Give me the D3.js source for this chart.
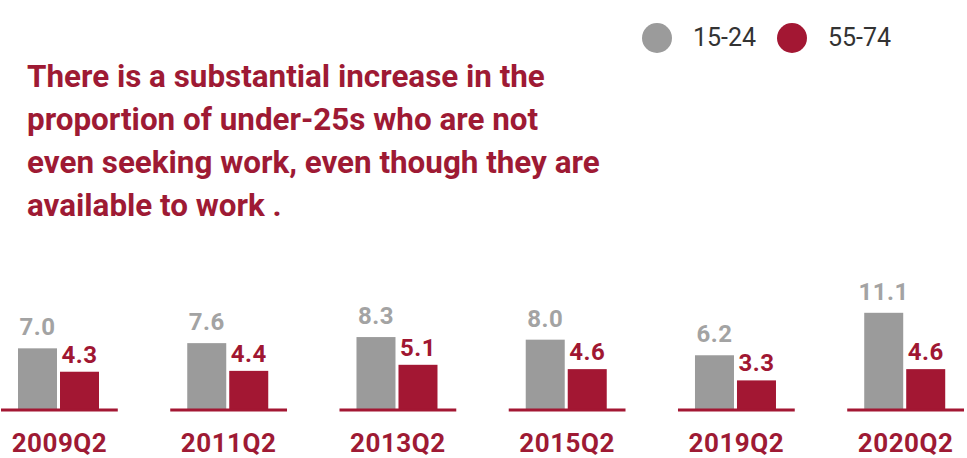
<!DOCTYPE html>
<html>
<head>
<meta charset="utf-8">
<script src="https://cdn.jsdelivr.net/npm/d3@7"></script>
<style>
  html, body { margin: 0; padding: 0; background: #fff; }
  svg { display: block; }
</style>
</head>
<body>
<svg id="chart" width="967" height="458"></svg>
<script>
const categories = ["2009Q2", "2011Q2", "2013Q2", "2015Q2", "2019Q2", "2020Q2"];
const seriesNames = ["15-24", "55-74"];
const youth = [7.0, 7.6, 8.3, 8.0, 6.2, 11.1];
const older = [4.3, 4.4, 5.1, 4.6, 3.3, 4.6];
const titleLines = [
  "There is a substantial increase in the",
  "proportion of under-25s who are not",
  "even seeking work, even though they are",
  "available to work ."
];

const GRAY = "#9b9b9b";
const RED = "#a31733";
const TITLE_RED = "#9e1a34";
const colors = { "15-24": GRAY, "55-74": RED };
const labelColors = { "15-24": "#a3a3a3", "55-74": "#a01732" };

const svg = d3.select("#chart");
const FONT = "Roboto, 'DejaVu Sans', sans-serif";

const x0 = d3.scaleBand().domain(categories).range([1, 964]).paddingInner(0.31).paddingOuter(0);
const x1 = d3.scaleBand().domain(seriesNames).range([17, 98]).paddingInner(0.0714).paddingOuter(0);
const y = d3.scaleLinear().domain([0, 12]).range([409, 305]);

const data = categories.map((c, i) => ({
  cat: c,
  values: [{ s: "15-24", v: youth[i] }, { s: "55-74", v: older[i] }]
}));

// Title
const title = svg.append("g").attr("font-family", FONT).attr("font-weight", 700).attr("fill", TITLE_RED);
title.selectAll("text").data(titleLines).join("text")
  .attr("x", 27)
  .attr("y", (d, i) => 87 + i * 43)
  .attr("font-size", 26)
  .text(d => d);
const firstLen = title.select("text").node().getComputedTextLength();
const fs = 26 * 518 / firstLen;
title.selectAll("text").attr("font-size", fs);

// Legend
const legendItems = [
  { s: "15-24", cx: 657, tx: 693 },
  { s: "55-74", cx: 792, tx: 828 }
];
const legend = svg.append("g");
legend.selectAll("circle").data(legendItems).join("circle")
  .attr("cx", d => d.cx).attr("cy", 38).attr("r", 15)
  .attr("fill", d => colors[d.s]);
legend.selectAll("text").data(legendItems).join("text")
  .attr("x", d => d.tx).attr("y", 46)
  .attr("font-family", FONT).attr("font-size", 25).attr("fill", "#333")
  .text(d => d.s);

// Groups
const groups = svg.append("g").selectAll("g").data(data).join("g")
  .attr("transform", d => `translate(${x0(d.cat)},0)`);

groups.selectAll("rect").data(d => d.values).join("rect")
  .attr("x", d => x1(d.s))
  .attr("width", x1.bandwidth())
  .attr("y", d => y(d.v))
  .attr("height", d => y(0) - y(d.v))
  .attr("fill", d => colors[d.s]);

groups.append("line")
  .attr("x1", 0).attr("x2", x0.bandwidth())
  .attr("y1", 410).attr("y2", 410)
  .attr("stroke", RED).attr("stroke-width", 3);

groups.selectAll("text.val").data(d => d.values).join("text")
  .attr("class", "val")
  .attr("x", d => x1(d.s) + x1.bandwidth() / 2)
  .attr("y", d => y(d.v) - (d.s === "15-24" ? 13 : 9))
  .attr("text-anchor", "middle")
  .attr("font-family", FONT).attr("font-weight", 700).attr("font-size", 24)
  .attr("letter-spacing", 0.5)
  .attr("fill", d => labelColors[d.s])
  .text(d => d3.format(".1f")(d.v));

groups.append("text")
  .attr("x", x0.bandwidth() / 2)
  .attr("y", 452)
  .attr("text-anchor", "middle")
  .attr("font-family", FONT).attr("font-weight", 700).attr("font-size", 26)
  .attr("letter-spacing", 0.5)
  .attr("fill", TITLE_RED)
  .text(d => d.cat);
</script>
</body>
</html>
